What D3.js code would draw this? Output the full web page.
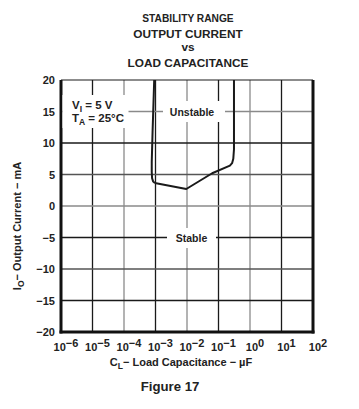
<!DOCTYPE html>
<html>
<head>
<meta charset="utf-8">
<script src="https://cdn.jsdelivr.net/npm/d3@7"></script>
<style>
  body { margin: 0; background: #fff; }
  text { font-family: "Liberation Sans", Arial, sans-serif; font-weight: bold; fill: #222; }
</style>
</head>
<body>
<svg id="chart" width="359" height="409"></svg>
<script>
// ---- data ----
const titleLines = ["STABILITY RANGE", "OUTPUT CURRENT", "vs", "LOAD CAPACITANCE"];
const xDecades = [-6, -5, -4, -3, -2, -1, 0, 1, 2];           // exponents of 10 (µF)
const xGridShade = ["k", "g", "k", "g", "k", "g", "k"];       // for 10^-5 .. 10^1
const yTicks = [20, 15, 10, 5, 0, -5, -10, -15, -20];
const yGridShade = { 15: "g", 10: "k", 5: "m", 0: "g", "-5": "k", "-10": "m", "-15": "k" };
const boundaryC = [9.1e-4, 8.1e-4, 7.6e-4, 7.6e-4, 7.8e-4, 8.4e-4, 9.4e-4, 1.05e-3, 9.5e-3, 0.063, 0.23, 0.27, 0.295, 0.31, 0.31];
const boundaryI = [20, 12, 7, 5.4, 4.4, 3.9, 3.7, 3.6, 2.7, 5.2, 6.4, 6.8, 7.5, 9, 20];

// ---- layout ----
const svg = d3.select("#chart");
const L = 61, R = 313, T = 80, B = 332;
const x = d3.scaleLog().domain([1e-6, 1e2]).range([L, R]);
const y = d3.scaleLinear().domain([-20, 20]).range([B, T]);
const shade = { k: "#1a1a1a", g: "#8a8a8a", m: "#555" };

// title
const titleY = [22, 38, 51, 67];
const titleSize = [10.2, 11.8, 11.8, 11.8];
titleLines.forEach((t, i) => {
  svg.append("text").attr("x", 188).attr("y", titleY[i])
    .attr("text-anchor", "middle").attr("font-size", titleSize[i]).text(t);
});

// grid
const g = svg.append("g");
xDecades.slice(1, -1).forEach((e, i) => {
  g.append("line").attr("x1", x(Math.pow(10, e))).attr("x2", x(Math.pow(10, e)))
    .attr("y1", T).attr("y2", B).attr("stroke", shade[xGridShade[i]]).attr("stroke-width", 1.3);
});
yTicks.slice(1, -1).forEach(v => {
  g.append("line").attr("x1", L).attr("x2", R).attr("y1", y(v)).attr("y2", y(v))
    .attr("stroke", shade[yGridShade[v]]).attr("stroke-width", 1.3);
});

// frame
g.append("line").attr("x1", L).attr("x2", R).attr("y1", T).attr("y2", T).attr("stroke", "#1a1a1a").attr("stroke-width", 1.2);
g.append("line").attr("x1", L).attr("x2", L).attr("y1", T).attr("y2", B + 1.5).attr("stroke", "#111").attr("stroke-width", 3);
g.append("line").attr("x1", R).attr("x2", R).attr("y1", T).attr("y2", B + 1.5).attr("stroke", "#111").attr("stroke-width", 3);
g.append("line").attr("x1", L - 1.5).attr("x2", R + 1.5).attr("y1", B).attr("y2", B).attr("stroke", "#111").attr("stroke-width", 3);

// label boxes (white behind text, covering grid)
function box(x0, y0, w, h) {
  svg.append("rect").attr("x", x0).attr("y", y0).attr("width", w).attr("height", h).attr("fill", "#fff");
}
box(L + 1.5, 95, 66, 33);
box(163, 101, 62, 21);
box(167, 228, 49, 20);

// boundary curve
const pts = boundaryC.map((c, i) => [x(c), y(boundaryI[i])]);
svg.append("path").attr("d", d3.line()(pts))
  .attr("fill", "none").attr("stroke", "#1a1a1a").attr("stroke-width", 2).attr("stroke-linejoin", "round");

// annotations
const ann1 = svg.append("text").attr("x", 72).attr("y", 109).attr("font-size", 11.5);
ann1.append("tspan").text("V");
ann1.append("tspan").attr("font-size", 8.5).attr("dy", 3).text("I");
ann1.append("tspan").attr("dy", -3).text(" = 5 V");
const ann2 = svg.append("text").attr("x", 72).attr("y", 122).attr("font-size", 11.5);
ann2.append("tspan").text("T");
ann2.append("tspan").attr("font-size", 8.5).attr("dy", 3).text("A");
ann2.append("tspan").attr("dy", -3).text(" = 25°C");
svg.append("text").attr("x", 192).attr("y", 115.5).attr("text-anchor", "middle").attr("font-size", 10.5).text("Unstable");
svg.append("text").attr("x", 191.5).attr("y", 242).attr("text-anchor", "middle").attr("font-size", 10.5).text("Stable");

// y tick labels
yTicks.forEach(v => {
  svg.append("text").attr("x", 55).attr("y", y(v) + 4).attr("text-anchor", "end")
    .attr("font-size", 11).text(v < 0 ? "\u2212" + Math.abs(v) : String(v));
});

// x tick labels
xDecades.forEach(e => {
  const t = svg.append("text").attr("x", x(Math.pow(10, e)) + 5).attr("y", 351)
    .attr("text-anchor", "middle").attr("font-size", 11);
  t.append("tspan").text("10");
  t.append("tspan").attr("dy", -4).text(e < 0 ? "\u2212" + Math.abs(e) : String(e));
});

// axis titles
const xt = svg.append("text").attr("x", 181).attr("y", 366).attr("text-anchor", "middle").attr("font-size", 11);
xt.append("tspan").text("C");
xt.append("tspan").attr("font-size", 8.5).attr("dy", 3).text("L");
xt.append("tspan").attr("dy", -3).text("\u2212 Load Capacitance \u2212 \u00b5F");

const yt = svg.append("text").attr("transform", "translate(21,226) rotate(-90)")
  .attr("text-anchor", "middle").attr("font-size", 11);
yt.append("tspan").text("I");
yt.append("tspan").attr("font-size", 8.5).attr("dy", 3).text("O");
yt.append("tspan").attr("dy", -3).text("\u2212 Output Current \u2212 mA");

svg.append("text").attr("x", 170).attr("y", 391).attr("text-anchor", "middle").attr("font-size", 13.2).text("Figure 17");
</script>
</body>
</html>
